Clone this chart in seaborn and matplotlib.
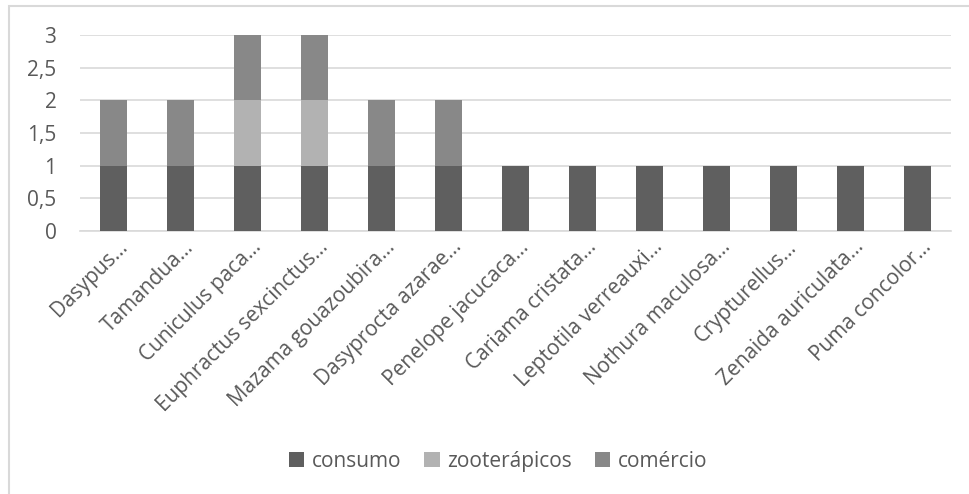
import matplotlib
matplotlib.use("Agg")
import matplotlib.pyplot as plt
from matplotlib.patches import Rectangle, Patch
from matplotlib.ticker import FuncFormatter
from matplotlib.transforms import ScaledTranslation
import seaborn as sns
import pandas as pd

especies = [
    "Dasypus…", "Tamandua…", "Cuniculus paca…", "Euphractus sexcinctus…",
    "Mazama gouazoubira…", "Dasyprocta azarae…", "Penelope jacucaca…",
    "Cariama cristata…", "Leptotila verreauxi…", "Nothura maculosa…",
    "Crypturellus…", "Zenaida auriculata…", "Puma concolor…",
]
consumo = [1, 1, 1, 1, 1, 1, 1, 1, 1, 1, 1, 1, 1]
zooterapicos = [0, 0, 1, 1, 0, 0, 0, 0, 0, 0, 0, 0, 0]
comercio = [1, 1, 1, 1, 1, 1, 0, 0, 0, 0, 0, 0, 0]
series = ["consumo", "zooterápicos", "comércio"]
cores = ["#5f5f5f", "#b2b2b2", "#888888"]

df = pd.DataFrame({"especie": especies, "consumo": consumo,
                   "zooterapicos": zooterapicos, "comercio": comercio})
df["ate_zoo"] = df["consumo"] + df["zooterapicos"]
df["total"] = df["ate_zoo"] + df["comercio"]

sns.set_style("white")
plt.rcParams["font.family"] = ["Open Sans", "DejaVu Sans"]
texto = "#595959"
grade = "#d9d9d9"

fig = plt.figure(figsize=(9.69, 4.94), dpi=100)
ax = fig.add_axes([80 / 969, 1 - 231 / 494, 871 / 969, 196 / 494])

# stacked bars drawn as cumulative layers, top layer first
for col, cor in [("total", cores[2]), ("ate_zoo", cores[1]), ("consumo", cores[0])]:
    sns.barplot(data=df, x="especie", y=col, color=cor, width=0.4,
                saturation=1, linewidth=0, ax=ax, zorder=3)

ax.set_ylim(0, 3)
ax.set_xlim(-0.5, len(especies) - 0.5)
ax.set_yticks([0, 0.5, 1, 1.5, 2, 2.5, 3])
ax.yaxis.set_major_formatter(FuncFormatter(lambda v, p: f"{v:g}".replace(".", ",")))
ax.grid(axis="y", color=grade, linewidth=1.2, zorder=0)
ax.set_axisbelow(True)
for s in ["top", "right", "left"]:
    ax.spines[s].set_visible(False)
ax.spines["bottom"].set_color(grade)
ax.spines["bottom"].set_linewidth(1.2)
ax.set_xlabel("")
ax.set_ylabel("")
ax.tick_params(axis="both", length=0, colors=texto, labelsize=15)
ax.tick_params(axis="y", pad=17)
ax.set_xticks(range(len(especies)))
ax.set_xticklabels(especies, rotation=45, ha="right", va="top",
                   rotation_mode="anchor", fontsize=15)
ax.tick_params(axis="x", pad=4)
shift = ScaledTranslation(3 / 100, 0, fig.dpi_scale_trans)
for lab in ax.get_xticklabels():
    lab.set_transform(lab.get_transform() + shift)

handles = [Patch(facecolor=c, edgecolor="none") for c in cores]
fig.legend(handles, series, loc="center", bbox_to_anchor=(498 / 969, 1 - 461 / 494),
           ncol=3, frameon=False, fontsize=15, labelcolor=texto,
           handlelength=0.75, handleheight=0.75, handletextpad=0.35, columnspacing=1.1)

# outer chart frame (cut by the right and bottom image edges)
fig.patches.append(Rectangle((9 / 969, -0.05), 1.05, 1 - 6 / 494 + 0.05,
                             transform=fig.transFigure, fill=False,
                             edgecolor=grade, linewidth=1.5))

fig.savefig("out.png", dpi=100, facecolor="white")
